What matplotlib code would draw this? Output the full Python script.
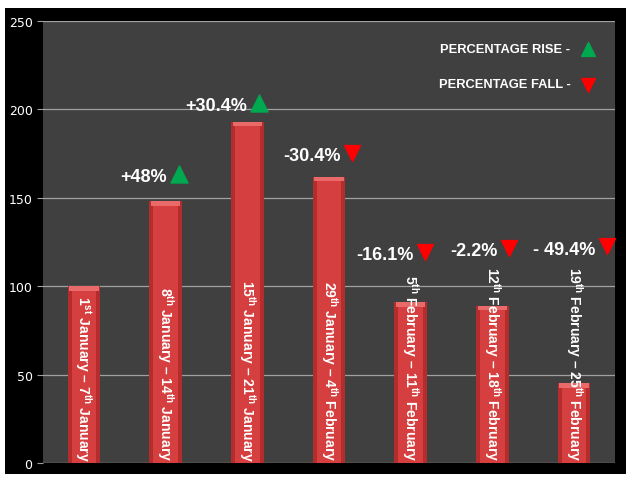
import matplotlib
matplotlib.use("Agg")
import matplotlib.pyplot as plt
from matplotlib.patches import Rectangle

plt.rcParams["mathtext.fontset"] = "custom"
plt.rcParams["mathtext.rm"] = "Liberation Sans:bold"

# weekly values
periods = [
    r"1$^{\mathrm{st}}$ January – 7$^{\mathrm{th}}$ January",
    r"8$^{\mathrm{th}}$ January – 14$^{\mathrm{th}}$ January",
    r"15$^{\mathrm{th}}$ January – 21$^{\mathrm{th}}$ January",
    r"29$^{\mathrm{th}}$ January – 4$^{\mathrm{th}}$ February",
    r"5$^{\mathrm{th}}$ February – 11$^{\mathrm{th}}$ February",
    r"12$^{\mathrm{th}}$ February – 18$^{\mathrm{th}}$ February",
    r"19$^{\mathrm{th}}$ February – 25$^{\mathrm{th}}$ February",
]
values = [100, 148, 193, 162, 91, 89, 45]
yticks = [0, 50, 100, 150, 200, 250]

# percentage change notes: (bar index, text, rise?)
change_bars = [1, 2, 3, 4, 5, 6]
change_text = ["+48%", "+30.4%", "-30.4%", "-16.1%", "-2.2%", "- 49.4%"]
change_rise = [True, True, False, False, False, False]

# where the notes sit (right edge of text in bar units, height in data units)
note_dx = [0.02, 0.0, 0.14, 0.04, 0.06, 0.26]
note_y = [162, 202, 174, 118, 120, 121]

BG = "#404040"
BAR_DARK = "#B52C2C"
BAR = "#D63F3F"
GREEN = "#00A94F"
RED = "#FF0000"

fig = plt.figure(figsize=(6.29, 4.81), dpi=100, facecolor="white")
fig.patches.append(Rectangle((0.008, 0.0125), 0.987, 0.9685,
                             transform=fig.transFigure, facecolor="black",
                             edgecolor="none", zorder=-10))
ax = fig.add_axes([0.0684, 0.0353, 0.9093, 0.919])
ax.set_facecolor(BG)

xs = list(range(len(values)))
# darker outer bar and lighter core give the rounded look
ax.bar(xs, values, width=0.4, color=BAR_DARK, edgecolor="none", zorder=3)
ax.bar(xs, [v - 1 for v in values], width=0.3, color=BAR, edgecolor="none", zorder=3)
# light bevel on top of each bar
ax.bar(xs, [2.5] * len(values), bottom=[v - 2.5 for v in values], width=0.36,
       color="#EA6A6A", edgecolor="none", zorder=4)

for x, label in zip(xs, periods):
    ax.text(x, 1.5, label, rotation=270, ha="center", va="bottom",
            color="white", fontsize=10, fontweight="bold",
            family="Liberation Sans", zorder=5)

for i, bar_i in enumerate(change_bars):
    tx = bar_i + note_dx[i]
    ax.text(tx, note_y[i], change_text[i], ha="right", va="center",
            color="white", fontsize=13, fontweight="bold",
            family="Liberation Sans", zorder=6)
    if change_rise[i]:
        ax.scatter([tx + 0.14], [note_y[i] + 1.5], marker="^", s=150,
                   color=GREEN, zorder=6, clip_on=False)
    else:
        ax.scatter([tx + 0.14], [note_y[i] + 1.5], marker="v", s=130,
                   color=RED, zorder=6, clip_on=False)

# legend in the top right
ax.text(0.922, 0.937, "PERCENTAGE RISE -", transform=ax.transAxes, ha="right",
        va="center", color="white", fontsize=9.3, fontweight="bold",
        family="Liberation Sans")
ax.scatter([0.952], [0.936], transform=ax.transAxes, marker="^", s=100,
           color=GREEN, zorder=6)
ax.text(0.922, 0.858, "PERCENTAGE FALL -", transform=ax.transAxes, ha="right",
        va="center", color="white", fontsize=9.3, fontweight="bold",
        family="Liberation Sans")
ax.scatter([0.952], [0.855], transform=ax.transAxes, marker="v", s=100,
           color=RED, zorder=6)

ax.set_xlim(-0.5, len(values) - 0.5)
ax.set_ylim(0, 250)
ax.set_yticks(yticks)
ax.set_xticks([])
ax.yaxis.grid(True, color="#A0A0A0", linewidth=0.9, zorder=1)
ax.set_axisbelow(True)
ax.tick_params(axis="y", colors="#A0A0A0", labelsize=9, length=4, width=0.8,
               labelcolor="white")
for spine in ax.spines.values():
    spine.set_visible(False)

fig.savefig("out.png", dpi=100, facecolor="white")
